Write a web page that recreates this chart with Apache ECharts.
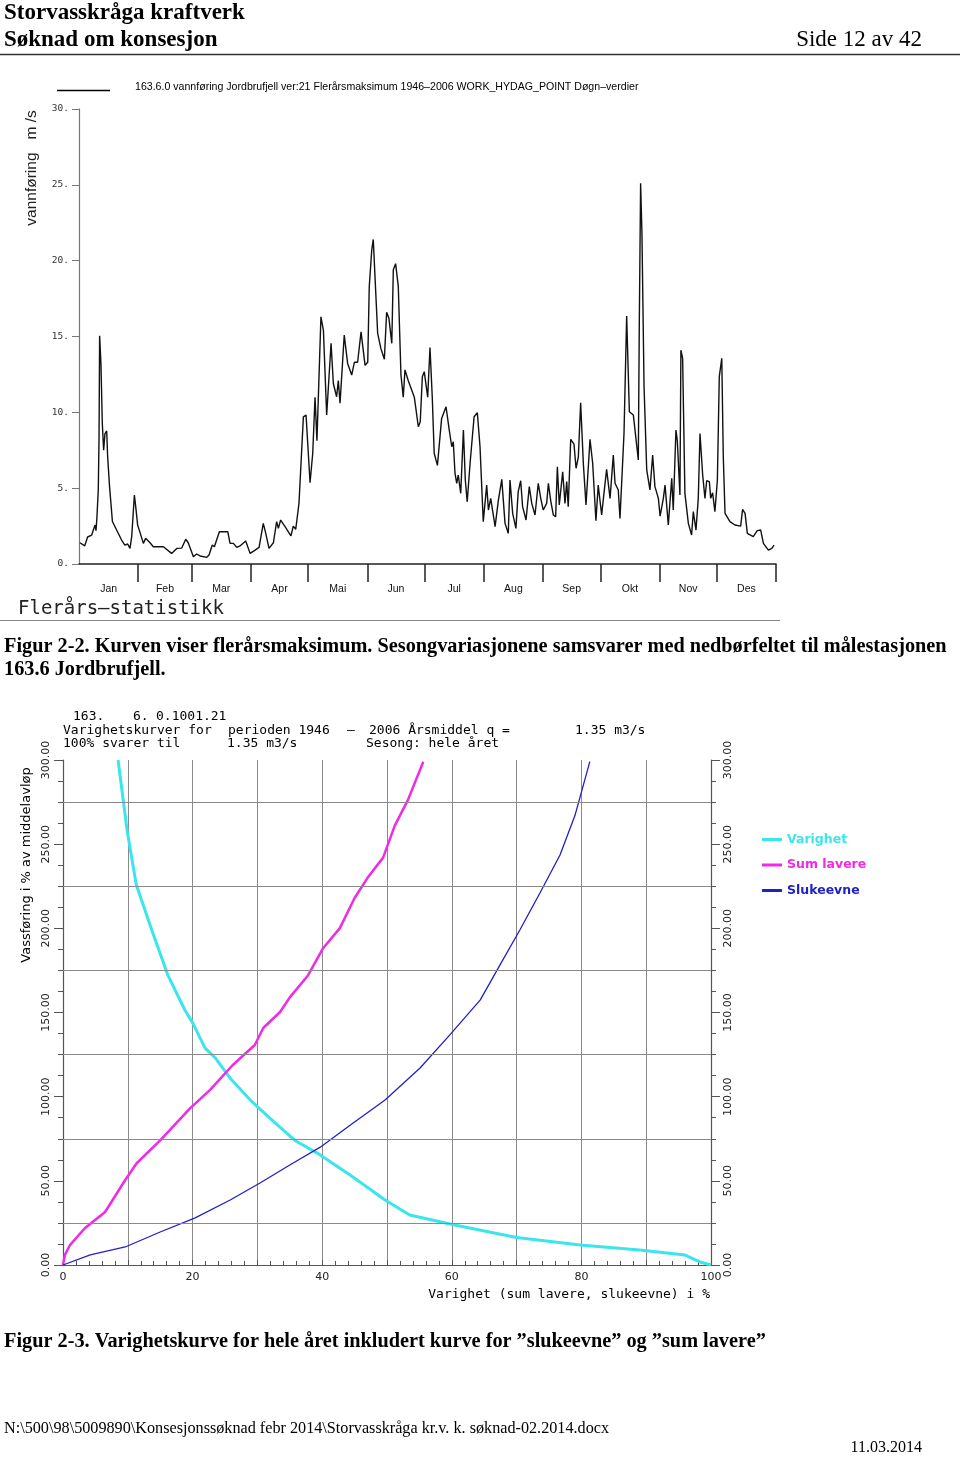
<!DOCTYPE html>
<html><head><meta charset="utf-8">
<script src="https://cdn.jsdelivr.net/npm/echarts@6/dist/echarts.min.js"></script>
<style>html,body{margin:0;padding:0;background:#fff}#c{width:960px;height:1457px}</style>
</head><body><div id="c"></div>
<script>
// ---------- Figure 2-2 : daily maximum discharge ----------
const dayOfYear = [0.5,3,4.5,6.6,7.5,8.4,8.9,9.4,10.1,10.5,10.8,11.5,12.2,12.9,13.6,14.5,15,16,17.5,19.7,22.3,24,25.5,26.7,27.6,29,29.7,30.7,32.1,33.7,34.9,37.2,38.9,44.2,45,48.5,51.2,53.8,55.9,57.2,59.9,61.6,63.4,66.9,68.1,69.8,70.9,73.5,77.9,79.1,80.8,82.6,84.3,87.3,89.6,92.2,94.3,96.5,97.8,99.5,101.8,103.5,104.4,105.6,107.9,111,112.2,113.5,115.2,117.5,118.9,121,122.4,123.6,124.6,126.7,128,129.7,132,133.2,134.9,135.8,136.7,138.9,140.7,142.8,144.2,145.9,147.7,149.8,151.2,152,153.3,154.1,155,156.4,158.1,159.9,161.1,162.3,163.8,164.6,165.8,167.2,168.6,169.8,170.7,172.4,175.6,177.7,178.7,179.8,180.8,182.6,183.8,185,186,187.7,189.9,192.2,193.9,195.2,196,196.9,197.8,198.6,199.9,201.3,202.3,203.3,204.8,206.9,208.6,210,211.7,213.5,214.4,215.6,217.9,219.6,221.4,223.1,224.8,225.7,227.1,228.8,230,231.3,232.3,234.1,235.8,237.1,238.8,240.5,241.8,243.1,244.9,245.8,247,248.4,249.6,250.5,251.5,253.3,254.5,255.4,256.2,257.5,259.2,260.3,261.5,262.7,264.1,265.5,267.6,269,270.7,271.9,273.7,274.9,276.3,278.1,279.8,280.7,282.4,283.3,285.4,286.8,288.2,290.3,292.9,293.4,294.1,294.8,295.9,297.3,299,300.4,301.6,303.4,304.3,306,306.9,308.6,310.4,311.2,312.6,313.3,314.7,315.2,316.1,317.3,319.1,320.8,321.7,323.1,324.3,325.2,326.6,327.8,328.7,330.1,330.8,331.8,333,334.3,335.3,336.6,337.4,338.3,340.9,343.5,346.5,347.5,348.8,350,353.1,355.2,357,358.4,361,362.8,364];
const flow = [1.4,1.2,1.78,1.9,2.24,2.57,2.2,3.1,4.9,8.4,15.05,13.2,9.3,7.5,8.6,8.77,7.07,5.1,2.8,2.24,1.58,1.25,1.32,1.03,1.8,4.55,3.78,2.57,2.02,1.36,1.69,1.4,1.14,1.14,1.25,0.7,1.03,1.05,1.63,1.4,0.48,0.66,0.53,0.44,0.59,1.25,1.14,2.13,2.13,1.36,1.36,1.1,1.19,1.52,0.7,0.92,1.1,2.68,2.02,1.03,1.4,2.79,2.35,2.9,2.46,1.85,2.5,2.29,4.0,9.7,9.82,5.36,7.3,11.0,8.13,16.3,15.4,9.82,14.55,11.9,11.03,12.1,10.6,15.1,13.2,12.46,13.3,13.3,15.3,13.1,13.3,18.3,20.7,21.4,21.47,15.2,14.2,13.5,16.6,16.2,14.55,19.4,19.8,18.3,12.46,11.0,12.8,12.1,11.0,9.05,9.38,12.35,12.68,11.0,14.28,11.0,7.3,6.5,9.6,10.37,8.83,7.73,8.06,5.98,5.32,5.87,4.66,8.83,5.54,4.1,6.64,9.71,9.97,7.73,2.79,5.2,3.56,4.33,2.46,4.2,5.58,2.68,2.02,5.54,3.34,2.35,4.77,5.49,3.78,2.9,5.1,4.0,3.23,5.32,4.33,3.56,4.0,5.32,4.2,3.23,3.12,6.41,3.89,6.08,4.0,5.43,3.78,8.22,7.91,6.31,7.07,10.63,6.64,3.89,8.22,6.64,2.85,5.2,3.23,4.66,6.24,4.33,7.18,5.32,4.88,3.01,8.6,16.35,10.04,9.82,6.86,15.65,25.1,21.8,11.7,6.2,4.88,7.18,5.1,4.33,3.16,4.33,5.2,2.57,5.65,3.56,8.83,8.17,4.55,14.1,13.56,4.66,2.68,1.91,3.45,2.24,4.33,8.6,5.87,4.33,5.49,5.43,4.33,4.7,3.45,5.54,12.35,13.56,7.07,3.34,2.79,2.57,2.5,3.6,3.34,2.02,1.8,2.2,2.24,1.36,0.92,1.03,1.25];
const monthNames = ['Jan','Feb','Mar','Apr','Mai','Jun','Jul','Aug','Sep','Okt','Nov','Des'];
const monthEnds = [31,59,90,120,151,181,212,243,273,304,334,365];
const monthMids = [15.5,45,74.5,105,135.5,166,196.5,227.5,258,288.5,319,349.5];

// ---------- Figure 2-3 : duration curves (x = % of time, y = % of mean flow) ----------
const varighetX = [8.5,9.9,11.3,13.7,16.2,18.8,20.0,21.9,23.5,25.8,28.9,32.0,35.8,39.7,44.3,49.7,53.5,59.7,70.0,79.8,89.0,96.0,98.3,100];
const varighetY = [300,258,226,199,172,151.5,144,129,123,111,98,87,74,65.4,53.5,38.6,29.7,24.4,16.3,11.9,8.9,5.9,1.8,0];
const sumLavereX = [0,0.3,1.1,3.4,6.5,9.6,11.4,15.0,19.6,22.7,26.2,29.6,30.9,33.5,35.0,37.8,40.1,42.7,45.0,47.0,49.4,51.2,53.2,55.6];
const sumLavereY = [0,6,12,22,31.5,50.5,60.6,74,93,104,118.8,130.7,140.8,150.3,159,172,188,200,218,230,242,261,276,299];
const slukeevneX = [0,4.2,9.6,15.0,20.4,25.8,30.4,35.0,39.7,44.3,49.7,55.1,59.7,64.4,67.4,70.5,73.6,76.7,79.0,81.3];
const slukeevneY = [0,6,10.7,19.6,28,38.6,48.7,59.4,70,83,98,117,136.7,157.5,178,199,221,243.6,267,299];
const gridLevels = [25,75,125,175,225,275];
const legendNames = ['Varighet','Sum lavere','Slukeevne'];
const legendColors = ['#3ae6ec','#f02ae6','#2020c8'];

const pairs = (xs, ys) => xs.map((x, i) => [x, ys[i]]);

function T(text, x, y, o) {
  o = o || {};
  return {
    type: 'text', x: x, y: y, rotation: o.rot || 0, silent: true, z: 10,
    style: {
      text: text,
      fontSize: o.size || 12,
      fontFamily: o.family || 'Liberation Serif',
      fontWeight: o.weight || 'normal',
      fill: o.color || '#000',
      align: o.align || 'left', textAlign: o.align || 'left',
      verticalAlign: o.va || 'middle', textVerticalAlign: o.va || 'middle'
    }
  };
}
function L(x1, y1, x2, y2, color, w) {
  return { type: 'line', silent: true, z: 10, shape: { x1, y1, x2, y2 }, style: { stroke: color, lineWidth: w } };
}

const mono = 'DejaVu Sans Mono';
const graphic = [
  T('Storvasskråga kraftverk', 4, 13, { size: 23, weight: 'bold' }),
  T('Søknad om konsesjon', 4, 40, { size: 23, weight: 'bold' }),
  T('Side 12 av 42', 922, 40, { size: 23, align: 'right' }),
  L(0, 54.5, 960, 54.5, '#333', 1.5),
  L(57, 90.5, 110, 90.5, '#000', 1.5),
  T('163.6.0 vannføring Jordbrufjell ver:21 Flerårsmaksimum 1946–2006 WORK_HYDAG_POINT Døgn–verdier', 135, 87, { size: 10.6, family: 'Liberation Sans' }),
  T('vannføring   m /s', 32, 168, { size: 15.5, family: 'Liberation Sans', rot: Math.PI / 2, align: 'center', color: '#222' }),
  T('Flerårs—statistikk', 18, 609, { size: 19, family: mono, color: '#222' }),
  L(0, 620.5, 780, 620.5, '#888', 1),
  T('Figur 2-2. Kurven viser flerårsmaksimum. Sesongvariasjonene samsvarer med nedbørfeltet til målestasjonen', 4, 647, { size: 20.3, weight: 'bold' }),
  T('163.6 Jordbrufjell.', 4, 670, { size: 20.3, weight: 'bold' }),
  T('163.', 73, 717, { size: 13, family: mono }),
  T('6.', 133, 717, { size: 13, family: mono }),
  T('0.1001.21', 156, 717, { size: 13, family: mono }),
  T('Varighetskurver for', 63, 731, { size: 13, family: mono }),
  T('perioden 1946', 228, 731, { size: 13, family: mono }),
  T('–', 347, 731, { size: 13, family: mono }),
  T('2006 Årsmiddel q =', 369, 731, { size: 13, family: mono }),
  T('1.35 m3/s', 575, 731, { size: 13, family: mono }),
  T('100% svarer til', 63, 744, { size: 13, family: mono }),
  T('1.35 m3/s', 227, 744, { size: 13, family: mono }),
  T('Sesong: hele året', 366, 744, { size: 13, family: mono }),
  T('Vassføring i % av middelavløp', 27, 865, { size: 13, family: 'DejaVu Sans', rot: Math.PI / 2, align: 'center' }),
  T('Varighet (sum lavere, slukeevne) i %', 710, 1295, { size: 13, family: mono, align: 'right' }),
  T('Figur 2-3. Varighetskurve for hele året inkludert kurve for ”slukeevne” og ”sum lavere”', 4, 1342, { size: 20.3, weight: 'bold' }),
  T('N:\\500\\98\\5009890\\Konsesjonssøknad febr 2014\\Storvasskråga kr.v. k. søknad-02.2014.docx', 4, 1429, { size: 16.2 }),
  T('11.03.2014', 922, 1448, { size: 16, align: 'right' })
];

const chart = echarts.init(document.getElementById('c'), null, { renderer: 'canvas' });
const yLab = { rotate: 90, fontSize: 11, fontFamily: 'DejaVu Sans', color: '#222', formatter: v => v.toFixed(2) };
chart.setOption({
  backgroundColor: '#fff',
  animation: false,
  graphic: graphic,
  legend: {
    orient: 'vertical', left: 757, top: 828, itemWidth: 20, itemHeight: 3, itemGap: 12.5, icon: 'rect',
    selectedMode: false,
    textStyle: { fontWeight: 'bold', fontSize: 12.5, fontFamily: 'DejaVu Sans' },
    data: legendNames.map((n, i) => ({ name: n, textStyle: { color: legendColors[i] } }))
  },
  grid: [
    { left: 79, top: 109, width: 697, height: 455 },
    { left: 63, top: 760, width: 648, height: 505 }
  ],
  xAxis: [
    {
      gridIndex: 0, type: 'value', min: 0, max: 365,
      axisLine: { lineStyle: { color: '#222', width: 1.5 } },
      axisTick: { show: true, customValues: monthEnds, length: 18, lineStyle: { color: '#222', width: 1.5 } },
      axisLabel: { customValues: monthMids, margin: 20, fontSize: 10.5, fontFamily: 'Liberation Sans', color: '#111',
        formatter: v => { const i = monthMids.indexOf(v); return i >= 0 ? monthNames[i] : ''; } },
      splitLine: { show: false }
    },
    {
      gridIndex: 1, type: 'value', min: 0, max: 100, interval: 10,
      axisLine: { lineStyle: { color: '#555', width: 1.2 } },
      axisTick: { inside: true, length: 5, lineStyle: { color: '#555' } },
      minorTick: { show: true, splitNumber: 5, length: 4, lineStyle: { color: '#555' } },
      splitLine: { show: true, lineStyle: { color: '#8a8a8a', width: 1 } },
      axisLabel: { margin: 7, fontSize: 11, fontFamily: 'DejaVu Sans', color: '#222', formatter: v => (v % 20 === 0 ? String(v) : '') }
    }
  ],
  yAxis: [
    {
      gridIndex: 0, type: 'value', min: 0, max: 30, interval: 5,
      axisLine: { show: true, lineStyle: { color: '#777', width: 1.2 } },
      axisTick: { show: true, length: 7, lineStyle: { color: '#777' } },
      axisLabel: { margin: 10, fontSize: 9.5, fontFamily: mono, color: '#333', formatter: v => v + '.' },
      splitLine: { show: false }
    },
    {
      gridIndex: 1, type: 'value', min: 0, max: 300, interval: 50, position: 'left',
      axisLine: { show: true, lineStyle: { color: '#555', width: 1.2 } },
      axisTick: { show: true, length: 9, lineStyle: { color: '#555' } },
      minorTick: { show: true, splitNumber: 4, length: 5, lineStyle: { color: '#555' } },
      axisLabel: Object.assign({ margin: 11 }, yLab),
      splitLine: { show: false }
    },
    {
      gridIndex: 1, type: 'value', min: 0, max: 300, interval: 50, position: 'right',
      axisLine: { show: true, lineStyle: { color: '#555', width: 1.2 } },
      axisTick: { show: true, length: 9, lineStyle: { color: '#555' } },
      minorTick: { show: true, splitNumber: 4, length: 5, lineStyle: { color: '#555' } },
      axisLabel: Object.assign({ margin: 12 }, yLab),
      splitLine: { show: false }
    }
  ],
  series: [
    {
      name: 'Flerårsmaksimum', type: 'line', xAxisIndex: 0, yAxisIndex: 0, showSymbol: false, symbol: 'none',
      data: pairs(dayOfYear, flow), lineStyle: { color: '#111', width: 1.4 }, color: '#111'
    },
    {
      name: 'grid', type: 'line', xAxisIndex: 1, yAxisIndex: 1, data: [], z: 1, symbol: 'none',
      markLine: { silent: true, symbol: 'none', label: { show: false },
        lineStyle: { color: '#8a8a8a', width: 1, type: 'solid' },
        data: gridLevels.map(v => ({ yAxis: v })) }
    },
    {
      name: legendNames[0], type: 'line', xAxisIndex: 1, yAxisIndex: 1, symbol: 'none', z: 3, color: legendColors[0],
      data: pairs(varighetX, varighetY), lineStyle: { color: legendColors[0], width: 3 }
    },
    {
      name: legendNames[1], type: 'line', xAxisIndex: 1, yAxisIndex: 1, symbol: 'none', z: 3, color: legendColors[1],
      data: pairs(sumLavereX, sumLavereY), lineStyle: { color: legendColors[1], width: 2.5 }
    },
    {
      name: legendNames[2], type: 'line', xAxisIndex: 1, yAxisIndex: 1, symbol: 'none', z: 3, color: legendColors[2],
      data: pairs(slukeevneX, slukeevneY), lineStyle: { color: legendColors[2], width: 1.3 }
    }
  ]
});
</script></body></html>
